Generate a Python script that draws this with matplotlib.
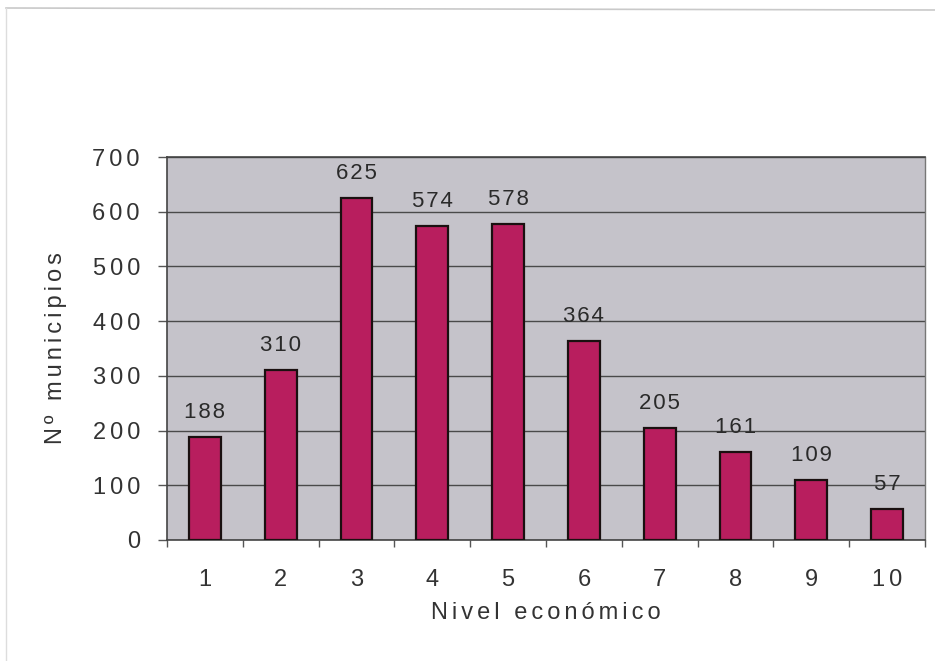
import matplotlib
matplotlib.use("Agg")
import matplotlib.pyplot as plt
from matplotlib.lines import Line2D

niveles = ["1", "2", "3", "4", "5", "6", "7", "8", "9", "10"]
municipios = [188, 310, 625, 574, 578, 364, 205, 161, 109, 57]
y_ticks = [0, 100, 200, 300, 400, 500, 600, 700]

HS = "\u200a"  # hair space used to open up the letter spacing


def spaced(s, n=2):
    return (HS * n).join(s)


plt.rcParams["font.family"] = ["Liberation Sans", "DejaVu Sans"]

fig = plt.figure(figsize=(9.35, 6.61), dpi=100)
fig.patch.set_facecolor("white")

# light outer frame of the chart sheet
fig.add_artist(Line2D([6 / 935, 1.0], [1 - 8 / 661, 1 - 10 / 661],
                      transform=fig.transFigure, color="#c9c9c9", lw=1.2))
fig.add_artist(Line2D([6 / 935, 6 / 935], [1 - 8 / 661, 0.0],
                      transform=fig.transFigure, color="#dddddd", lw=1.0))

ax = fig.add_axes([167 / 935, 1 - 540 / 661, (925 - 167) / 935, (540 - 157) / 661])
ax.set_facecolor("#c5c3ca")

x = list(range(len(niveles)))
bars = ax.bar(x, municipios, width=0.42, color="#b81e5e",
              edgecolor="#1a1010", linewidth=1.6, zorder=3)

for xi, v in zip(x, municipios):
    ax.annotate(spaced(str(v), 1), (xi, v), xytext=(0, 10), textcoords="offset points",
                ha="center", va="bottom", fontsize=16, color="#2a2a2a", zorder=4)

ax.set_xlim(-0.5, len(niveles) - 0.5)
ax.set_ylim(0, 700)
ax.set_yticks(y_ticks)
ax.set_yticklabels([spaced(str(t)) for t in y_ticks], fontsize=17, color="#333333")
ax.yaxis.grid(True, color="#4a4a4a", linewidth=1.0, zorder=1)
ax.set_axisbelow(True)

# category labels centred under bars, tick marks on category boundaries
ax.set_xticks(x)
ax.set_xticklabels([spaced(n) for n in niveles], fontsize=17, color="#333333")
ax.tick_params(axis="x", length=0, pad=21)
ax.set_xticks([i - 0.5 for i in range(len(niveles) + 1)], minor=True)
ax.tick_params(axis="x", which="minor", length=5, width=1, color="#555555", direction="out")
ax.tick_params(axis="y", length=6.5, width=1, color="#555555", pad=13)

for side in ["left", "bottom", "top"]:
    ax.spines[side].set_color("#444444")
    ax.spines[side].set_linewidth(1.2)
ax.spines["right"].set_color("#777777")
ax.spines["right"].set_linewidth(1.0)

ax.set_xlabel(spaced("Nivel económico"), fontsize=17, color="#333333", labelpad=8)
ax.set_ylabel(spaced("Nº municipios"), fontsize=17, color="#333333", labelpad=18)

fig.savefig("out.png", dpi=100, facecolor="white")
